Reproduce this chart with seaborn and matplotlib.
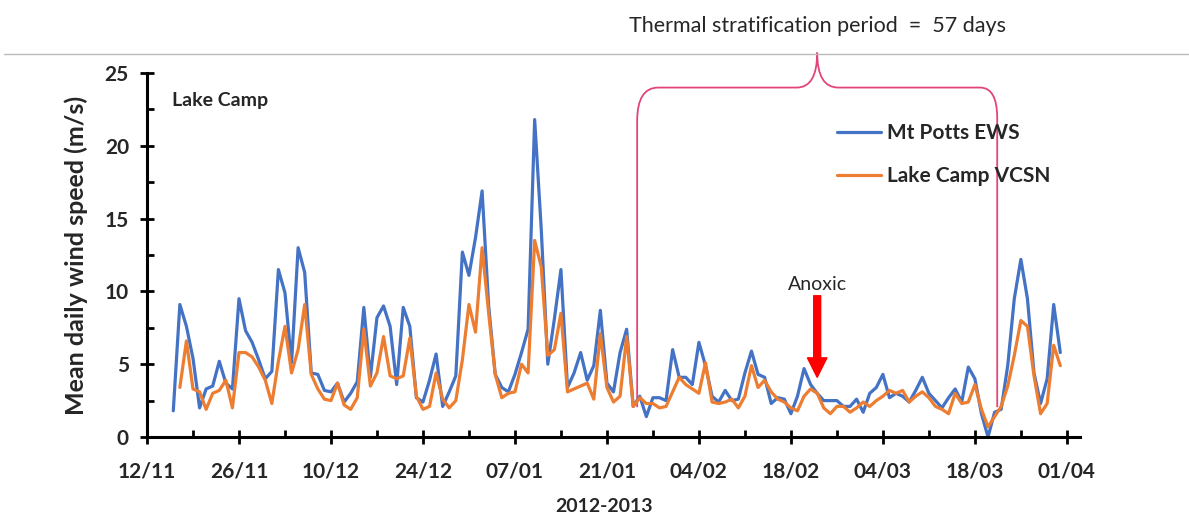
import numpy as np
import pandas as pd
import seaborn as sns
import matplotlib.pyplot as plt
from matplotlib.path import Path
from matplotlib.patches import PathPatch
from matplotlib.lines import Line2D

# days counted from 12/11/2012
tick_days = [0, 14, 28, 42, 56, 70, 84, 98, 112, 126, 140]
tick_labels = ['12/11', '26/11', '10/12', '24/12', '07/01', '21/01',
               '04/02', '18/02', '04/03', '18/03', '01/04']

# Mt Potts EWS, daily from 16/11 (day 4) to 31/03 (day 139)
mt_potts_start = 4
mt_potts = [1.8, 9.1, 7.6, 5.4, 2.0, 3.3, 3.5, 5.2, 3.7, 3.3,
            9.5, 7.3, 6.5, 5.3, 4.0, 4.5, 11.5, 9.9, 5.1, 13.0,
            11.3, 4.4, 4.3, 3.2, 3.1, 3.7, 2.4, 3.0, 3.8, 8.9,
            4.1, 8.2, 9.0, 7.6, 3.6, 8.9, 7.6, 2.7, 2.4, 3.9,
            5.7, 2.1, 3.1, 4.2, 12.7, 11.1, 13.7, 16.9, 9.0, 4.3,
            3.4, 3.1, 4.3, 5.8, 7.4, 21.8, 14.3, 5.0, 8.1, 11.5,
            3.4, 4.4, 5.8, 3.9, 4.9, 8.7, 3.7, 3.1, 5.8, 7.4,
            2.1, 2.8, 1.4, 2.7, 2.7, 2.5, 6.0, 4.1, 4.1, 3.6,
            6.5, 4.9, 2.8, 2.4, 3.2, 2.5, 2.6, 4.4, 5.9, 4.3,
            4.1, 2.3, 2.7, 2.6, 1.6, 2.8, 4.7, 3.6, 3.0, 2.5,
            2.5, 2.5, 2.1, 2.1, 2.6, 1.7, 3.0, 3.4, 4.3, 2.7,
            3.0, 2.8, 2.4, 3.2, 4.1, 3.0, 2.5, 2.0, 2.7, 3.3,
            2.4, 4.8, 4.0, 1.6, 0.0, 1.7, 1.9, 4.9, 9.5, 12.2,
            9.5, 4.4, 2.3, 4.0, 9.1, 5.8]

# Lake Camp VCSN, daily from 17/11 (day 5) to 31/03 (day 139)
lake_camp_start = 5
lake_camp = [3.4, 6.6, 3.3, 3.1, 1.9, 3.0, 3.2, 3.9, 2.0, 5.8,
             5.8, 5.5, 4.8, 3.9, 2.3, 5.2, 7.6, 4.4, 6.0, 9.1,
             4.3, 3.3, 2.6, 2.5, 3.7, 2.2, 1.9, 2.7, 7.4, 3.5,
             4.4, 6.9, 4.2, 4.0, 4.2, 6.8, 2.8, 1.9, 2.1, 4.4,
             2.6, 2.0, 2.5, 5.3, 9.1, 7.2, 13.0, 8.5, 4.3, 2.7,
             3.0, 3.1, 5.0, 4.4, 13.5, 11.7, 5.6, 6.0, 8.5, 3.1,
             3.3, 3.5, 3.7, 2.6, 7.1, 3.4, 2.4, 2.8, 6.9, 2.1,
             2.7, 2.3, 2.3, 2.0, 2.1, 3.1, 4.1, 3.6, 3.3, 3.0,
             5.1, 2.4, 2.3, 2.4, 2.6, 2.0, 2.8, 4.9, 3.4, 3.9,
             3.1, 2.6, 2.4, 2.0, 1.8, 2.8, 3.3, 3.0, 2.0, 1.6,
             2.1, 2.1, 1.7, 2.0, 2.4, 2.1, 2.5, 2.8, 3.2, 3.0,
             3.2, 2.4, 2.8, 3.1, 2.7, 2.1, 1.9, 1.6, 3.0, 2.3,
             2.4, 3.6, 1.9, 0.7, 1.4, 2.1, 3.5, 5.6, 8.0, 7.6,
             4.2, 1.6, 2.3, 6.3, 4.9]

blue = '#4472C4'
orange = '#ED7D31'
pink = '#E2457A'

df_mt = pd.DataFrame({'day': np.arange(len(mt_potts)) + mt_potts_start,
                      'speed': mt_potts})
df_lc = pd.DataFrame({'day': np.arange(len(lake_camp)) + lake_camp_start,
                      'speed': lake_camp})

sns.set_style('ticks')
plt.rcParams['font.family'] = ['Lato', 'DejaVu Sans']

fig = plt.figure(figsize=(11.89, 5.18), dpi=100)
ax = fig.add_axes([147 / 1189, 1 - 437 / 518, (1080 - 147) / 1189, 364 / 518])

sns.lineplot(data=df_mt, x='day', y='speed', ax=ax, color=blue, lw=2.3,
             label='Mt Potts EWS')
sns.lineplot(data=df_lc, x='day', y='speed', ax=ax, color=orange, lw=2.3,
             label='Lake Camp VCSN')

ax.set_xlim(0, 142)
ax.set_ylim(0, 25)
ax.set_xticks(tick_days)
ax.set_xticklabels(tick_labels)
ax.set_xticks(np.arange(7, 140, 14), minor=True)
ax.set_yticks([0, 5, 10, 15, 20, 25])
ax.set_yticks(np.arange(2.5, 25, 5), minor=True)

for s in ['top', 'right']:
    ax.spines[s].set_visible(False)
for s in ['left', 'bottom']:
    ax.spines[s].set_linewidth(2.2)
    ax.spines[s].set_color('black')

ax.tick_params(axis='both', which='major', direction='inout', length=10,
               width=2, color='black')
ax.tick_params(axis='both', which='minor', direction='in', length=5,
               width=2, color='black')
ax.tick_params(axis='x', which='major', pad=13, labelsize=15)
ax.tick_params(axis='y', which='major', pad=8, labelsize=15)
for lab in ax.get_xticklabels() + ax.get_yticklabels():
    lab.set_fontweight('bold')

ax.set_xlabel('2012-2013', fontsize=14, fontweight='bold')
ax.xaxis.set_label_coords(0.49, -0.168)
ax.set_ylabel('Mean daily wind speed (m/s)', fontsize=18, fontweight='bold',
              labelpad=12)

ax.text(0.027, 0.925, 'Lake Camp', transform=ax.transAxes, fontsize=14,
        fontweight='bold', va='center', ha='left')

ax.legend(loc='upper left', bbox_to_anchor=(0.7395, 0.862), frameon=False,
          prop={'weight': 'bold', 'size': 15}, handlelength=2.1,
          handletextpad=0.3, labelspacing=1.1, borderpad=0, borderaxespad=0)

# thermal stratification bracket
x0, x1, xm = 74.6, 129.4, 102.0
yb, yh, yt = 2.05, 24.0, 26.4
verts = [(x0, yb), (x0, 21.7), (x0, yh), (x0 + 3.2, yh),
         (xm - 3.1, yh), (xm, yh), (xm, yt),
         (xm, yh), (xm + 3.2, yh),
         (x1 - 2.6, yh), (x1, yh), (x1, 21.9), (x1, yb)]
codes = [Path.MOVETO, Path.LINETO, Path.CURVE3, Path.CURVE3,
         Path.LINETO, Path.CURVE3, Path.CURVE3,
         Path.CURVE3, Path.CURVE3,
         Path.LINETO, Path.CURVE3, Path.CURVE3, Path.LINETO]
ax.add_patch(PathPatch(Path(verts, codes), fill=False, edgecolor=pink,
                       lw=1.3, clip_on=False))
ax.text(xm, 28.2, 'Thermal stratification period  =  57 days', fontsize=15.5,
        ha='center', va='center', clip_on=False)

# anoxic arrow
ax.annotate('', xy=(102.0, 4.1), xytext=(102.0, 9.7),
            arrowprops=dict(facecolor='#FF0000', edgecolor='#FF0000',
                            width=5, headwidth=14, headlength=14))
ax.text(102.0, 10.5, 'Anoxic', fontsize=14, ha='center', va='center')

fig.add_artist(Line2D([0.003, 1], [1 - 54 / 518] * 2, color='#BBBBBB', lw=1,
                      transform=fig.transFigure))

fig.savefig('out.png', dpi=100)
